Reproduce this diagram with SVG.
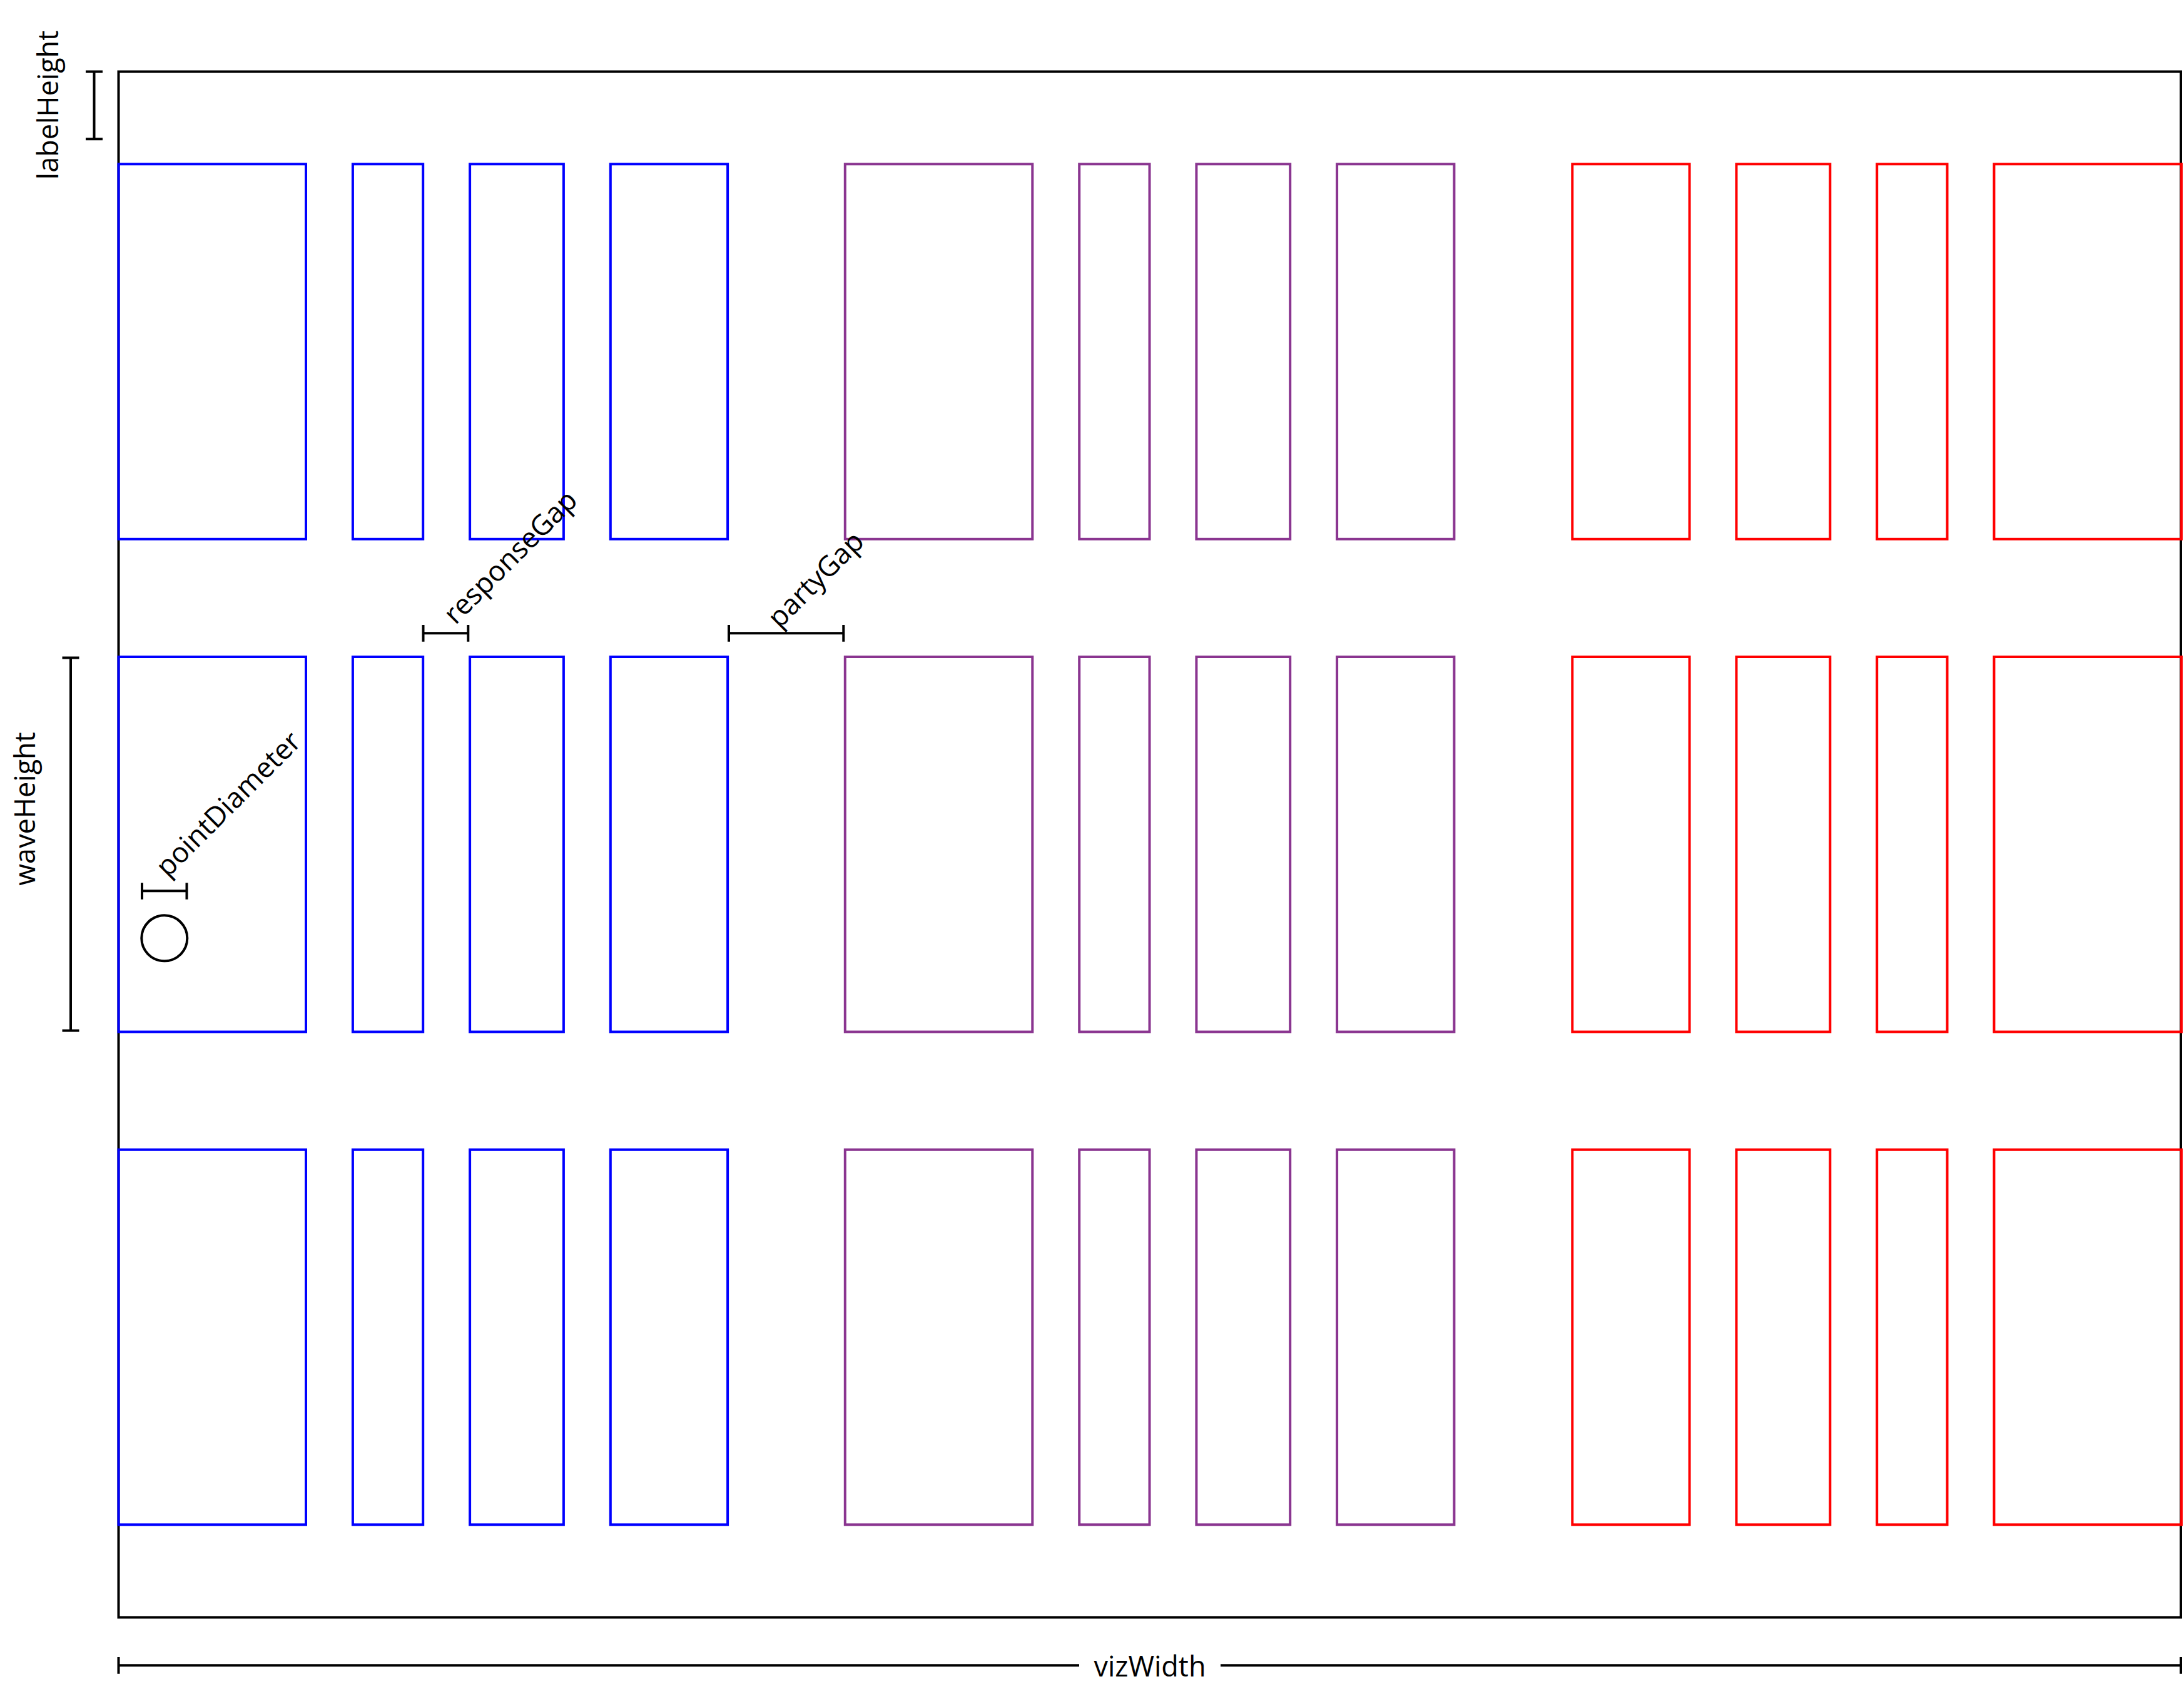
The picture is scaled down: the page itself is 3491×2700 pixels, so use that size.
<svg xmlns="http://www.w3.org/2000/svg" width="3491" height="2700" viewBox="0 0 3491 2700">
<style>
.frame{fill:none;stroke:#000;stroke-width:4}
.r{fill:none;stroke-width:4}
.b{stroke:#0000ff}
.p{stroke:#8a3590}
.d{stroke:#ff0000}
.dim{fill:none;stroke:#000;stroke-width:4}
.t{font-family:"Open Sans","DejaVu Sans",sans-serif;font-size:45px;fill:#000}
</style>
<defs>
<g id="wave">
<rect class="r b" x="189.5" y="0" width="299.5" height="599.5"/>
<rect class="r b" x="563.9" y="0" width="112.3" height="599.5"/>
<rect class="r b" x="751.1" y="0" width="149.8" height="599.5"/>
<rect class="r b" x="975.8" y="0" width="187.3" height="599.5"/>
<rect class="r p" x="1350.8" y="0" width="299.5" height="599.5"/>
<rect class="r p" x="1725.2" y="0" width="112.3" height="599.5"/>
<rect class="r p" x="1912.4" y="0" width="149.8" height="599.5"/>
<rect class="r p" x="2137.1" y="0" width="187.3" height="599.5"/>
<rect class="r d" x="2513.3" y="0" width="187.3" height="599.5"/>
<rect class="r d" x="2775.5" y="0" width="149.8" height="599.5"/>
<rect class="r d" x="3000.2" y="0" width="112.3" height="599.5"/>
<rect class="r d" x="3187.4" y="0" width="299.5" height="599.5"/>
</g>
</defs>
<g id="frame"><rect class="frame" x="189.5" y="114.5" width="3296.5" height="2471"/></g>
<g id="wave1"><use href="#wave" y="262.3"/></g>
<g id="wave2"><use href="#wave" y="1050"/></g>
<g id="wave3"><use href="#wave" y="1837.8"/></g>
<g id="point"><circle cx="262.8" cy="1499.8" r="36.5" fill="none" stroke="#000" stroke-width="4"/></g>
<g id="dimensions">
<g id="labelHeight">
<path class="dim" d="M150.5 114.5V222.3M137 114.5H164M137 222.3H164"/>
<text class="t" text-anchor="middle" transform="translate(93 168) rotate(-90)">labelHeight</text>
</g>
<g id="waveHeight">
<path class="dim" d="M113 1051.5V1647.5M99.5 1051.5H126.5M99.5 1647.5H126.5"/>
<text class="t" text-anchor="middle" transform="translate(55.5 1293) rotate(-90)">waveHeight</text>
</g>
<g id="pointDiameter">
<path class="dim" d="M227 1424.3H298.5M227 1411.3V1437.8M298.5 1411.3V1437.8"/>
<text class="t" transform="translate(268 1404) rotate(-45)">pointDiameter</text>
</g>
<g id="responseGap">
<path class="dim" d="M676.5 1012.3H748.3M676.5 999V1025.7M748.3 999V1025.7"/>
<text class="t" transform="translate(728 1000) rotate(-45)">responseGap</text>
</g>
<g id="partyGap">
<path class="dim" d="M1165 1012.3H1348.3M1165 999V1025.7M1348.3 999V1025.7"/>
<text class="t" transform="translate(1246 1006) rotate(-45)">partyGap</text>
</g>
<g id="vizWidth">
<path class="dim" d="M189.5 2662.3H1725M1951 2662.3H3486M189.5 2649V2675.7M3486 2649V2675.7"/>
<text class="t" text-anchor="middle" x="1838" y="2680">vizWidth</text>
</g>
</g>
</svg>
